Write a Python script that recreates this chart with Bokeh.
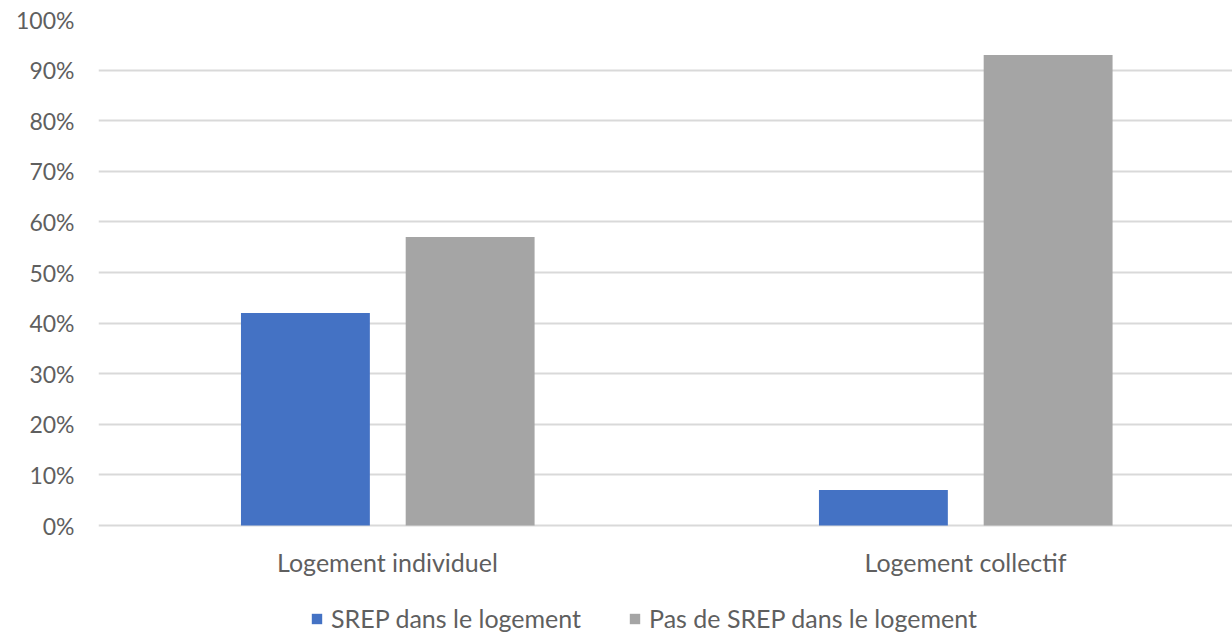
from bokeh.plotting import figure
from bokeh.models import (ColumnDataSource, Range1d, FixedTicker, NumeralTickFormatter,
                          Legend, LegendItem)
from bokeh.transform import dodge
from bokeh.core.properties import value
from bokeh.embed import file_html
from bokeh.resources import INLINE

categories = ["Logement individuel", "Logement collectif"]
series = ["SREP dans le logement", "Pas de SREP dans le logement"]
srep = [0.42, 0.07]
pas_srep = [0.57, 0.93]
y_ticks = [0.0, 0.1, 0.2, 0.3, 0.4, 0.5, 0.6, 0.7, 0.8, 0.9, 1.0]
colors = ["#4472C4", "#A5A5A5"]

pos = list(range(len(categories)))
src = ColumnDataSource(dict(x=pos, srep=srep, pas=pas_srep, cat=categories,
                            ly=[-0.073] * len(pos)))

FONT = "Lato"
TXT = "#5f5f5f"

p = figure(width=1232, height=634, output_backend="svg", toolbar_location=None,
           x_range=Range1d(-0.5, 1.462), y_range=Range1d(-0.2154, 1.0),
           min_border_left=98, min_border_right=0, min_border_top=19,
           min_border_bottom=0, outline_line_color=None)

r1 = p.vbar(x=dodge("x", -0.142, range=p.x_range), top="srep", width=0.223,
            source=src, fill_color=colors[0], line_color=None)
r2 = p.vbar(x=dodge("x", 0.143, range=p.x_range), top="pas", width=0.223,
            source=src, fill_color=colors[1], line_color=None)

# category labels (x axis)
p.text(x="x", y="ly", text="cat", source=src, text_align="center",
       text_baseline="middle", text_font=value(FONT), text_font_size="25px",
       text_color=TXT)
p.xaxis.visible = False

p.yaxis.ticker = FixedTicker(ticks=y_ticks)
p.yaxis.formatter = NumeralTickFormatter(format="0%")
p.yaxis.axis_line_color = None
p.yaxis.major_tick_line_color = None
p.yaxis.minor_tick_line_color = None
p.yaxis.major_label_standoff = 18
p.yaxis.major_label_text_font = FONT
p.yaxis.major_label_text_font_size = "23px"
p.yaxis.major_label_text_color = TXT

p.xgrid.grid_line_color = None
p.ygrid.ticker = FixedTicker(ticks=y_ticks)
p.ygrid.grid_line_color = "#D9D9D9"
p.ygrid.grid_line_width = 2

legend = Legend(items=[LegendItem(label=series[0], renderers=[r1]),
                       LegendItem(label=series[1], renderers=[r2])],
                location=(212, 1), orientation="horizontal",
                glyph_width=13, glyph_height=13, label_height=24,
                label_standoff=8, spacing=47, padding=0, margin=0,
                label_text_font=FONT, label_text_font_size="25px",
                label_text_color=TXT, background_fill_alpha=0,
                border_line_color=None)
p.add_layout(legend)

open("out.html", "w").write(file_html(p, INLINE))
